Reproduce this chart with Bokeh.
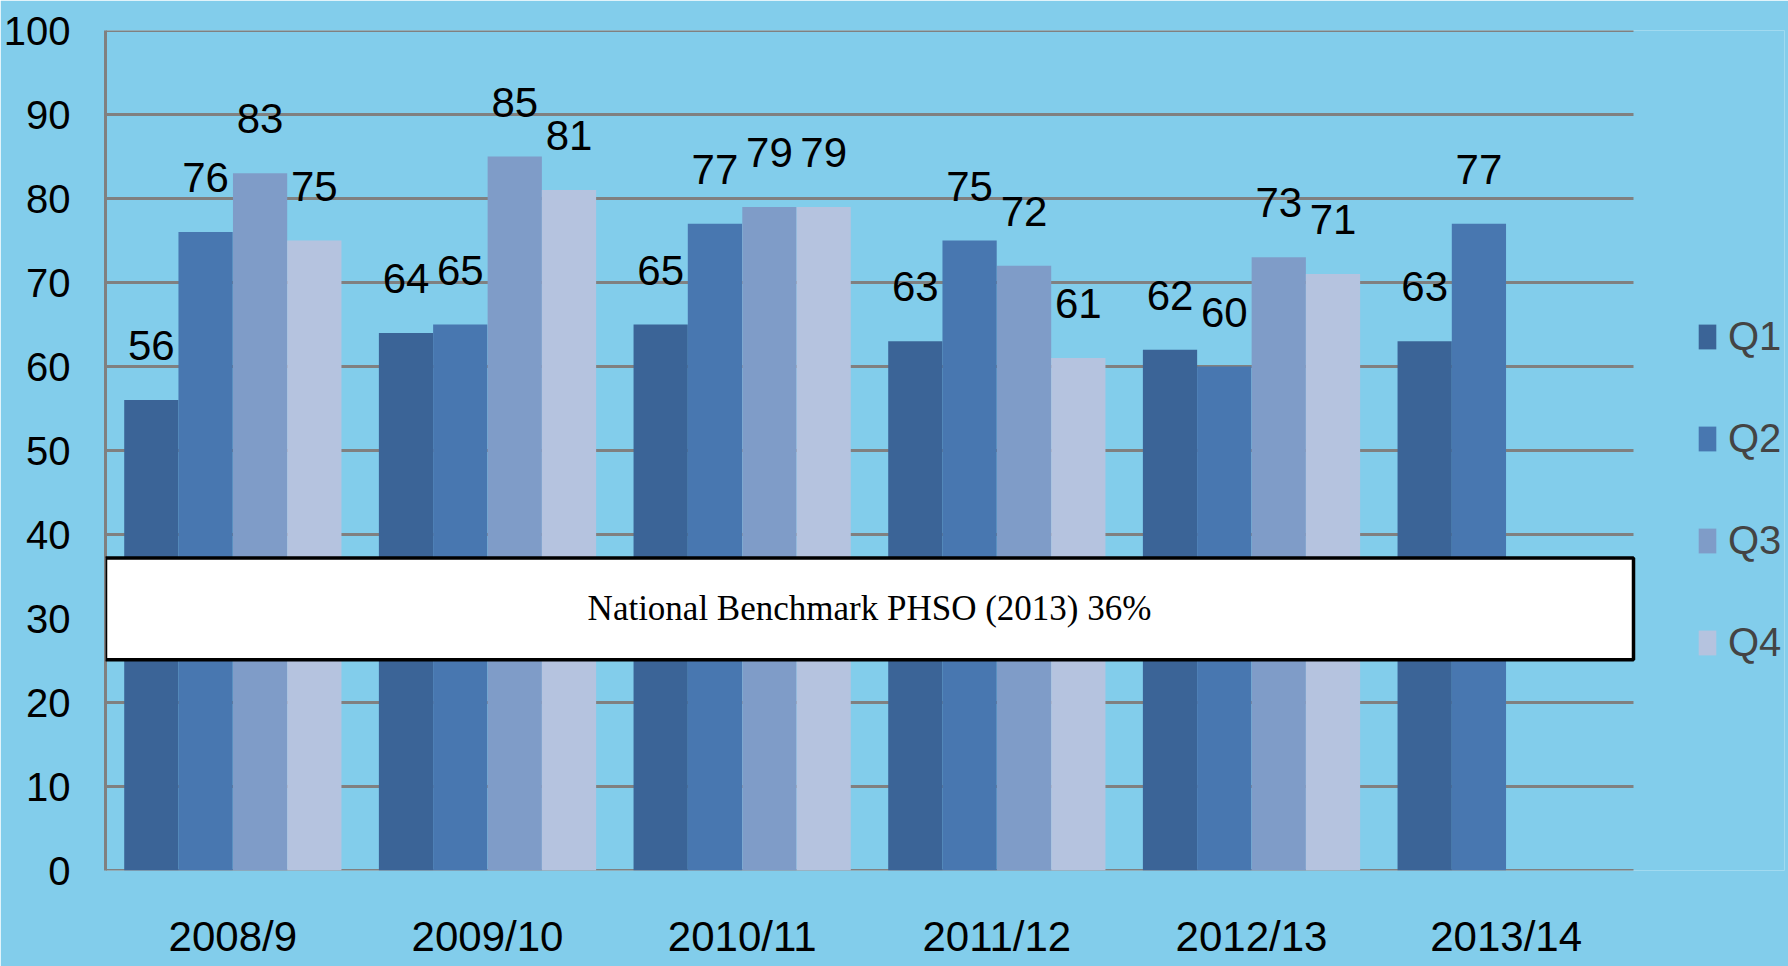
from bokeh.plotting import figure
from bokeh.models import (ColumnDataSource, Range1d, LabelSet, Legend, LegendItem,
                          BoxAnnotation, Label, FixedTicker)
from bokeh.core.properties import value
from bokeh.embed import file_html
from bokeh.resources import INLINE

# ---------------- data ----------------
years = ["2008/9", "2009/10", "2010/11", "2011/12", "2012/13", "2013/14"]
quarters = ["Q1", "Q2", "Q3", "Q4"]
q1 = [56, 64, 65, 63, 62, 63]
q2 = [76, 65, 77, 75, 60, 77]
q3 = [83, 85, 79, 72, 73, None]
q4 = [75, 81, 79, 61, 71, None]
y_ticks = [0, 10, 20, 30, 40, 50, 60, 70, 80, 90, 100]
benchmark_text = "National Benchmark PHSO (2013) 36%"
benchmark_box = (25.1, 37.2)

series = [q1, q2, q3, q4]
colors = ["#3B6497", "#4877B0", "#7F9CC8", "#B5C3DF"]
offsets = [-0.32, -0.107, 0.107, 0.32]
BAR_W = 0.213
BG = "#82CDEB"
GRID = "#808080"
FONT = "Liberation Sans"
SERIF = "Liberation Serif"

n = len(years)
W, H = 1788, 966
LEFT, RIGHT, TOP, BOTTOM = 105, 4, 30, 96
cat_px = 1528 / n
x_end = (W - LEFT - RIGHT) / cat_px

p = figure(width=W, height=H, x_range=Range1d(0, x_end), y_range=Range1d(0, 100),
           output_backend="svg", toolbar_location=None,
           min_border_left=LEFT, min_border_right=RIGHT, min_border_top=TOP,
           min_border_bottom=BOTTOM)
p.background_fill_color = BG
p.border_fill_color = BG
p.outline_line_color = None
p.xgrid.grid_line_color = None
p.ygrid.grid_line_color = None

# horizontal grid lines spanning the category area only
p.segment(x0=[0] * len(y_ticks), x1=[n] * len(y_ticks), y0=y_ticks, y1=y_ticks,
          line_color=GRID, line_width=3)

centers = [i + 0.5 for i in range(n)]
items = []
for qname, vals, col, off in zip(quarters, series, colors, offsets):
    xs = [c + off for c, v in zip(centers, vals) if v is not None]
    vs = [v for v in vals if v is not None]
    src = ColumnDataSource(dict(x=xs, top=vs, lab=[str(v) for v in vs]))
    r = p.vbar(x="x", top="top", width=BAR_W, source=src, fill_color=col, line_color=None)
    items.append(LegendItem(label=qname, renderers=[r]))
    p.add_layout(LabelSet(x="x", y="top", text="lab", source=src,
                          y_offset=40, text_align="center", text_baseline="alphabetic",
                          text_font=value(FONT), text_font_size="42px", text_color="black"))

box = BoxAnnotation(left=0, right=n, bottom=benchmark_box[0], top=benchmark_box[1],
                    fill_color="white", fill_alpha=1, line_color="black", line_alpha=1,
                    line_width=3.5, level="overlay")
p.add_layout(box)
p.add_layout(Label(x=n / 2, y=sum(benchmark_box) / 2, text=benchmark_text, text_align="center",
                   text_baseline="middle", text_font=SERIF, text_font_size="35px",
                   text_color="black", level="overlay"))

# axes
p.yaxis.ticker = FixedTicker(ticks=y_ticks)
p.xaxis.ticker = FixedTicker(ticks=centers)
p.xaxis.major_label_overrides = {c: y for c, y in zip(centers, years)}
for ax in (p.xaxis[0], p.yaxis[0]):
    ax.major_tick_line_color = None
    ax.minor_tick_line_color = None
    ax.major_tick_in = 0
    ax.major_tick_out = 0
    ax.minor_tick_in = 0
    ax.minor_tick_out = 0
    ax.major_label_text_font = FONT
    ax.major_label_text_color = "black"
p.yaxis.major_label_text_font_size = "40px"
p.xaxis.major_label_text_font_size = "42px"
p.yaxis.axis_line_color = GRID
p.yaxis.axis_line_width = 3
p.xaxis.axis_line_color = None
p.yaxis.major_label_standoff = 35
p.xaxis.major_label_standoff = 42

legend = Legend(items=items, location=(1591, 205), orientation="vertical",
                glyph_width=22, glyph_height=31, label_height=46, spacing=56,
                label_standoff=10, padding=0, margin=0,
                label_text_font=FONT, label_text_font_size="40px",
                border_line_color=None, background_fill_alpha=0)
p.add_layout(legend)

open("out.html", "w").write(file_html(p, INLINE))
